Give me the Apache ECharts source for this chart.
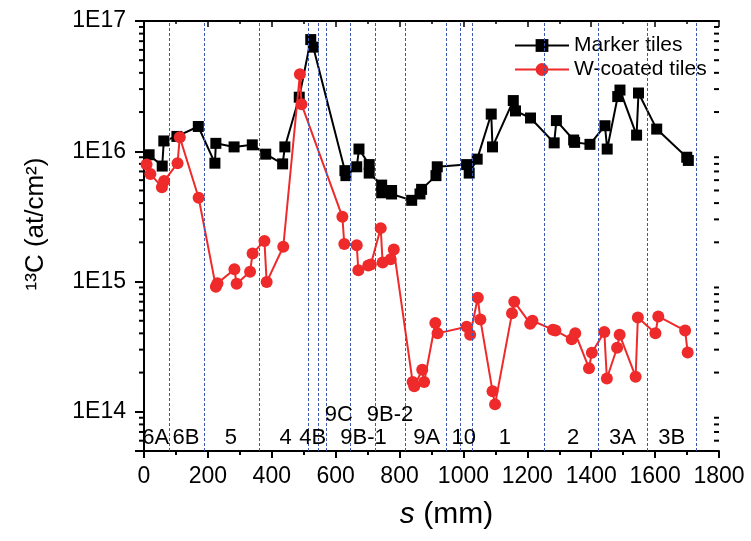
<!DOCTYPE html>
<html>
<head>
<meta charset="utf-8">
<script src="https://cdn.jsdelivr.net/npm/echarts@6/dist/echarts.min.js"></script>
<style>
  html, body { margin: 0; padding: 0; background: #fff; }
  #chart { width: 751px; height: 541px; }
</style>
</head>
<body>
<div id="chart"></div>
<script>
// position along the wall, mm
const markerX = [16, 57, 62, 103, 170, 222, 225, 282, 339, 381, 434, 441, 486, 522, 530,
  629, 632, 666, 673, 705, 705, 744, 744, 775, 775, 838, 864, 869, 914, 918,
  1010, 1018, 1043, 1087, 1091, 1156, 1163, 1210, 1284, 1291, 1345, 1348, 1396,
  1443, 1450, 1483, 1490, 1542, 1548, 1605, 1699, 1704];
const markerC13 = [9.4e15, 7.7e15, 1.2e16, 1.3e16, 1.55e16, 8.1e15, 1.15e16, 1.08e16, 1.12e16, 9.5e15,
  8.0e15, 1.08e16, 2.6e16, 7.2e16, 6.3e16, 7.1e15, 6.5e15, 7.6e15, 1.04e16, 7.9e15,
  6.8e15, 5.5e15, 4.8e15, 5.0e15, 4.7e15, 4.2e15, 4.7e15, 5.1e15, 6.5e15, 7.6e15,
  7.9e15, 6.8e15, 8.7e15, 1.93e16, 1.08e16, 2.45e16, 2.04e16, 1.8e16, 1.16e16, 1.72e16,
  1.22e16, 1.17e16, 1.13e16, 1.57e16, 1.04e16, 2.63e16, 2.95e16, 1.33e16, 2.8e16, 1.48e16,
  9.0e15, 8.5e15];

const wX = [8, 20, 56, 63, 105, 112, 171, 225, 230, 283, 290, 332, 340, 377, 384,
  436, 488, 493, 621, 627, 666, 671, 702, 710, 741, 747, 772, 782, 841, 846,
  871, 877, 912, 919, 1010, 1021, 1045, 1053, 1091, 1099, 1152, 1159, 1209, 1216, 1280,
  1288, 1339, 1350, 1393, 1402, 1441, 1449, 1481, 1489, 1539, 1546, 1601, 1610, 1694, 1702];
const wC13 = [7.9e15, 6.7e15, 5.3e15, 5.9e15, 8.1e15, 1.28e16, 4.4e15, 9.1e14, 9.7e14, 1.24e15,
  9.6e14, 1.19e15, 1.64e15, 2.05e15, 9.9e14, 1.85e15, 3.9e16, 2.3e16, 3.14e15, 1.94e15,
  1.9e15, 1.22e15, 1.33e15, 1.35e15, 2.57e15, 1.4e15, 1.48e15, 1.76e15, 1.69e14, 1.57e14,
  2.1e14, 1.69e14, 4.8e14, 4.0e14, 4.5e14, 3.9e14, 7.5e14, 5.1e14, 1.44e14, 1.14e14,
  5.7e14, 7.0e14, 4.75e14, 5.0e14, 4.27e14, 4.2e14, 3.6e14, 4.0e14, 2.16e14, 2.84e14,
  4.1e14, 1.8e14, 3.1e14, 3.9e14, 1.86e14, 5.3e14, 4.0e14, 5.4e14, 4.2e14, 2.85e14];

// tile boundaries (dashed lines)
const boundaries = [80, 190, 360, 513, 546, 572, 647, 723, 819, 945, 991, 1029, 1254, 1422, 1574, 1728];

// tile names and where they sit
const tileNames = ['6A', '6B', '5', '4', '4B', '9C', '9B-1', '9B-2', '9A', '10', '1', '2', '3A', '3B'];
const tileNameX = [37, 131, 272, 443, 528, 610, 687, 770, 885, 1001, 1130, 1343, 1498, 1652];
const tileNameY = [6.3e13, 6.3e13, 6.3e13, 6.3e13, 6.3e13, 9.5e13, 6.3e13, 9.5e13, 6.3e13, 6.3e13, 6.3e13, 6.3e13, 6.3e13, 6.3e13];

const yMinorTicks = [6e13, 7e13, 8e13, 9e13,
  2e14, 3e14, 4e14, 5e14, 6e14, 7e14, 8e14, 9e14,
  2e15, 3e15, 4e15, 5e15, 6e15, 7e15, 8e15, 9e15,
  2e16, 3e16, 4e16, 5e16, 6e16, 7e16, 8e16, 9e16];

const xMin = 0, xMax = 1800, yMin = 5e13, yMax = 1e17;
const font = 'Liberation Sans, Arial, sans-serif';

const chart = echarts.init(document.getElementById('chart'));

const zip = (xs, ys) => xs.map((x, i) => [x, ys[i]]);

const option = {
  animation: false,
  backgroundColor: '#fff',
  textStyle: { fontFamily: font, color: '#000' },
  grid: { left: 144, right: 32, top: 21, bottom: 90 },
  legend: {
    data: ['Marker tiles', 'W-coated tiles'],
    orient: 'vertical',
    left: 509,
    top: 30,
    itemWidth: 54,
    itemHeight: 16,
    itemGap: 3,
    textStyle: { fontSize: 21, color: '#000', fontFamily: font }
  },
  xAxis: [
    {
      type: 'value',
      min: xMin,
      max: xMax,
      interval: 200,
      name: '{i|s} (mm)',
      nameLocation: 'middle',
      nameGap: 49,
      nameTextStyle: {
        fontSize: 30, color: '#000', fontFamily: font, padding: [0, 0, 0, 30],
        rich: { i: { fontStyle: 'italic', fontSize: 30, fontFamily: font } }
      },
      axisLine: { lineStyle: { color: '#000', width: 2 } },
      axisTick: { inside: false, length: 7, lineStyle: { color: '#000', width: 2 } },
      minorTick: { show: true, splitNumber: 2, length: 4, lineStyle: { color: '#000', width: 2 } },
      axisLabel: { fontSize: 23, color: '#000', margin: 14, fontFamily: font, formatter: v => String(v) },
      splitLine: { show: false }
    },
    {
      type: 'value',
      position: 'top',
      min: xMin,
      max: xMax,
      interval: 200,
      axisLine: { lineStyle: { color: '#000', width: 2 } },
      axisTick: { inside: true, length: 6, lineStyle: { color: '#000', width: 1.5 } },
      minorTick: { show: true, splitNumber: 2, length: 3, lineStyle: { color: '#000', width: 1.5 } },
      axisLabel: { show: false },
      splitLine: { show: false }
    }
  ],
  yAxis: [
    {
      type: 'log',
      logBase: 10,
      min: yMin,
      max: yMax,
      name: '¹³C (at/cm²)',
      nameLocation: 'middle',
      nameGap: 95,
      nameTextStyle: { fontSize: 26, color: '#000', fontFamily: font, padding: [0, 0, 0, 24] },
      axisLine: { lineStyle: { color: '#000', width: 2 } },
      axisTick: { inside: false, length: 9, lineStyle: { color: '#000', width: 2 } },
      axisLabel: {
        fontSize: 23,
        color: '#000',
        margin: 18,
        fontFamily: font,
        formatter: function (v) {
          const e = Math.log10(v);
          return Math.abs(e - Math.round(e)) < 1e-6 ? '1E' + Math.round(e) : '';
        }
      },
      splitLine: { show: false }
    },
    {
      type: 'log',
      logBase: 10,
      position: 'right',
      min: yMin,
      max: yMax,
      axisLine: { lineStyle: { color: '#000', width: 2 } },
      axisTick: { inside: true, length: 9, lineStyle: { color: '#000', width: 2 } },
      axisLabel: { show: false },
      splitLine: { show: false }
    }
  ],
  series: [
    {
      type: 'custom',
      coordinateSystem: 'cartesian2d',
      silent: true,
      clip: false,
      data: yMinorTicks.map(v => [xMin, v]),
      renderItem: function (params, api) {
        const l = api.coord([xMin, api.value(1)]);
        const r = api.coord([xMax, api.value(1)]);
        const st = { stroke: '#000', lineWidth: 2 };
        return {
          type: 'group',
          children: [
            { type: 'line', shape: { x1: l[0] - 5, y1: l[1], x2: l[0], y2: l[1] }, style: st },
            { type: 'line', shape: { x1: r[0] - 5, y1: r[1], x2: r[0], y2: r[1] }, style: st }
          ]
        };
      }
    },
    {
      // tile names
      type: 'custom',
      coordinateSystem: 'cartesian2d',
      silent: true,
      clip: false,
      z: 5,
      data: tileNames.map((n, i) => [tileNameX[i], tileNameY[i]]),
      renderItem: function (params, api) {
        const p = api.coord([api.value(0), api.value(1)]);
        return {
          type: 'text',
          x: p[0],
          y: p[1],
          style: {
            text: tileNames[params.dataIndex],
            fill: '#000',
            font: '22px ' + font,
            align: 'center',
            verticalAlign: 'middle'
          }
        };
      }
    },
    {
      name: 'Marker tiles',
      type: 'line',
      data: zip(markerX, markerC13),
      symbol: 'rect',
      symbolSize: 11,
      itemStyle: { color: '#000' },
      lineStyle: { color: '#000', width: 2 },
      z: 3,
      markLine: {
        silent: true,
        symbol: ['none', 'none'],
        label: { show: false },
        lineStyle: { color: '#3b57b0', width: 1, type: [3, 2] },
        data: boundaries.map(b => ({ xAxis: b }))
      }
    },
    {
      name: 'W-coated tiles',
      type: 'line',
      data: zip(wX, wC13),
      symbol: 'circle',
      symbolSize: 12,
      itemStyle: { color: '#ee2a2a' },
      lineStyle: { color: '#ee2a2a', width: 2 },
      z: 4
    }
  ]
};

chart.setOption(option);
</script>
</body>
</html>
